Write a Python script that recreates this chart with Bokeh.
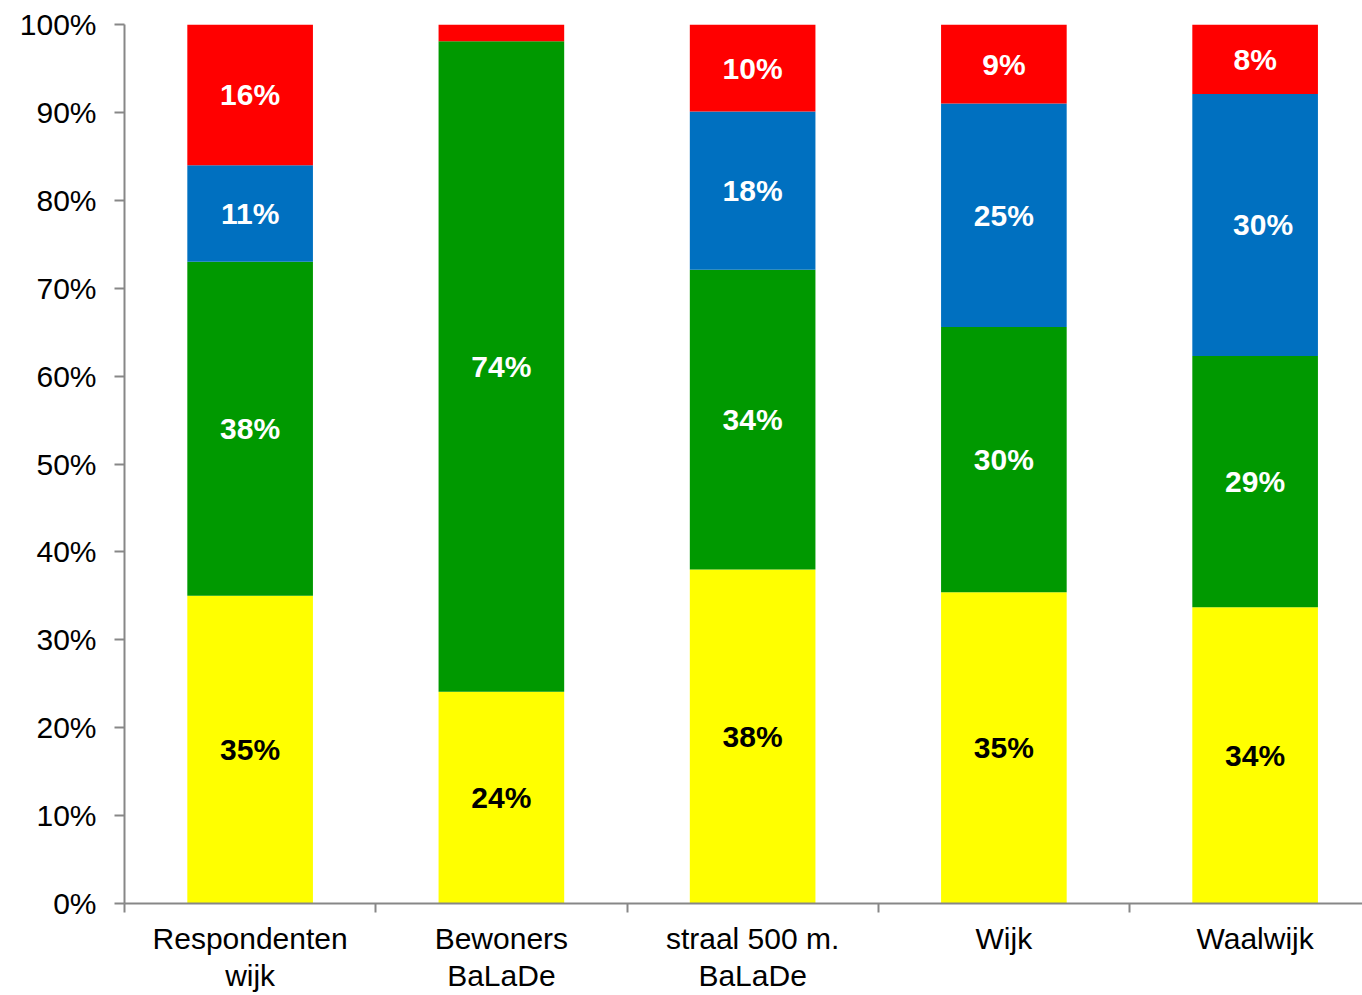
import numpy as np
from bokeh.plotting import figure
from bokeh.models import ColumnDataSource, FixedTicker, Range1d
from bokeh.core.properties import value
from bokeh.embed import file_html
from bokeh.resources import INLINE

# Share of respondents per answer group (percent of each column)
categories = ["Respondenten\nwijk", "Bewoners\nBaLaDe", "straal 500 m.\nBaLaDe", "Wijk", "Waalwijk"]
yellow = [35.0, 24.1, 38.0, 35.4, 33.7]
green = [38.0, 74.0, 34.1, 30.2, 28.6]
blue = [11.0, 0.0, 18.0, 25.4, 29.8]
red = [16.0, 1.9, 9.9, 9.0, 7.9]

y_ticks = [0, 10, 20, 30, 40, 50, 60, 70, 80, 90, 100]
y_tick_labels = ["0%", "10%", "20%", "30%", "40%", "50%", "60%", "70%", "80%", "90%", "100%"]

# ---- styling ----
FONT = "Liberation Sans"
AXIS_GREY = "#878787"
series = [yellow, green, blue, red]
fill_colors = ["#FFFF00", "#009900", "#0070C0", "#FF0000"]
label_colors = ["#000000", "#FFFFFF", "#FFFFFF", "#FFFFFF"]
label_nudge_px = {(4, 2): 8}   # (column, series) -> horizontal shift of the value label
MIN_LABEL = 5                  # segments smaller than this get no value label

x = list(range(len(categories)))
slot_px = 251.25
frame_w = 1362 - 124

p = figure(
    width=1362, height=995,
    x_range=Range1d(-0.5, -0.5 + frame_w / slot_px),
    y_range=Range1d(0, 100),
    output_backend="svg", toolbar_location=None,
    min_border_left=124, min_border_right=0,
    min_border_top=24, min_border_bottom=92,
)
p.outline_line_color = None
p.xgrid.visible = False
p.ygrid.visible = False
p.background_fill_color = "white"
p.border_fill_color = "white"

bottom = np.zeros(len(categories))
lx, ly, lt, lc, ldx = [], [], [], [], []
for s, (vals, fc, tc) in enumerate(zip(series, fill_colors, label_colors)):
    vals = np.asarray(vals, dtype=float)
    top = bottom + vals
    p.vbar(x=x, bottom=bottom, top=top, width=0.5, fill_color=fc, line_color=None)
    for i, v in enumerate(vals):
        if v >= MIN_LABEL:
            lx.append(x[i])
            ly.append((bottom[i] + top[i]) / 2)
            lt.append(f"{v:.0f}%")
            lc.append(tc)
            ldx.append(label_nudge_px.get((i, s), 0))
    bottom = top

labels = ColumnDataSource(dict(x=lx, y=ly, text=lt, color=lc, dx=ldx))
p.text(x="x", y="y", text="text", source=labels, text_color="color",
       text_font=value(FONT), text_font_style="bold", text_font_size="30px",
       text_align="center", text_baseline="middle", x_offset="dx")

# y axis: percentages
ya = p.yaxis[0]
ya.ticker = FixedTicker(ticks=y_ticks, minor_ticks=[])
ya.major_label_overrides = dict(zip(y_ticks, y_tick_labels))
ya.axis_line_color = AXIS_GREY
ya.axis_line_width = 2
ya.major_tick_line_color = AXIS_GREY
ya.major_tick_line_width = 2
ya.major_tick_out = 10
ya.major_tick_in = 0
ya.minor_tick_out = 0
ya.minor_tick_in = 0
ya.major_label_text_font = FONT
ya.major_label_text_font_size = "30px"
ya.major_label_text_color = "#000000"
ya.major_label_standoff = 18

# x axis: category names centred in each slot, tick marks on slot borders
xa = p.xaxis[0]
xa.ticker = FixedTicker(ticks=x, minor_ticks=[i - 0.5 for i in x])
xa.major_label_overrides = dict(zip(x, categories))
xa.axis_line_color = AXIS_GREY
xa.axis_line_width = 2
xa.major_tick_line_color = None
xa.major_tick_out = 0
xa.major_tick_in = 0
xa.minor_tick_line_color = AXIS_GREY
xa.minor_tick_line_width = 2
xa.minor_tick_out = 9
xa.minor_tick_in = 0
xa.major_label_text_font = FONT
xa.major_label_text_font_size = "30px"
xa.major_label_text_line_height = 1.15
xa.major_label_text_color = "#000000"
xa.major_label_standoff = 9

open("out.html", "w").write(file_html(p, INLINE))
